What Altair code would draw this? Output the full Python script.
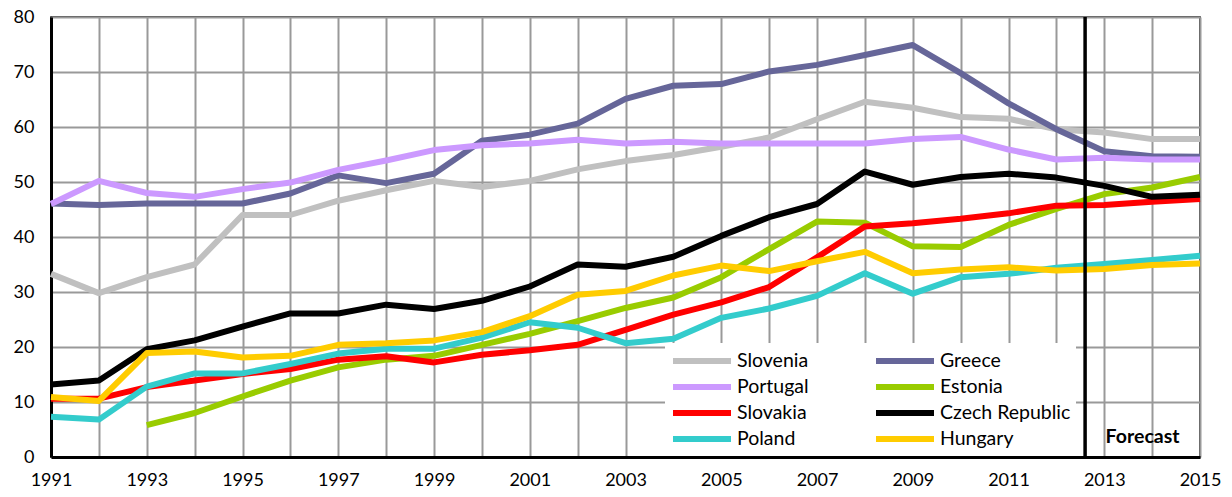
import altair as alt
import pandas as pd

years = [1991, 1992, 1993, 1994, 1995, 1996, 1997, 1998, 1999, 2000, 2001, 2002, 2003,
         2004, 2005, 2006, 2007, 2008, 2009, 2010, 2011, 2012, 2013, 2014, 2015]

slovenia = [33.3, 29.8, 32.7, 35.0, 44.0, 44.0, 46.6, 48.5, 50.2, 49.1, 50.2, 52.3, 53.8,
            54.9, 56.4, 58.1, 61.4, 64.6, 63.5, 61.8, 61.5, 59.6, 59.0, 57.8, 57.8]
greece = [46.1, 45.8, 46.1, 46.1, 46.1, 47.9, 51.2, 49.8, 51.5, 57.5, 58.6, 60.6, 65.1,
          67.5, 67.8, 70.1, 71.3, 73.1, 74.9, 69.8, 64.3, 59.6, 55.6, 54.7, 54.6]
portugal = [46.0, 50.2, 48.0, 47.3, 48.7, 49.9, 52.2, 53.9, 55.8, 56.7, 57.0, 57.7, 57.0,
            57.3, 57.0, 57.0, 57.0, 57.0, 57.8, 58.2, 55.9, 54.1, 54.4, 54.1, 54.1]
estonia = [None, None, 5.8, 8.0, 11.0, 13.9, 16.3, 17.7, 18.4, 20.4, 22.4, 24.7, 27.1,
           29.0, 32.7, 37.8, 42.8, 42.6, 38.3, 38.2, 42.2, 45.1, 47.8, 49.0, 50.9]
slovakia = [10.6, 10.6, 12.7, 13.9, 15.1, 16.0, 17.7, 18.3, 17.2, 18.6, 19.4, 20.4, 23.1,
            25.9, 28.1, 30.9, 36.3, 41.9, 42.5, 43.3, 44.3, 45.7, 45.8, 46.4, 46.9]
czech = [13.2, 13.9, 19.6, 21.2, 23.7, 26.1, 26.1, 27.7, 26.9, 28.4, 31.0, 35.0, 34.6,
         36.4, 40.2, 43.6, 46.0, 51.9, 49.5, 50.9, 51.5, 50.8, 49.3, 47.3, 47.7]
poland = [7.3, 6.8, 12.8, 15.2, 15.2, 16.9, 18.8, 19.7, 19.7, 21.7, 24.5, 23.5, 20.7,
          21.5, 25.3, 27.0, 29.3, 33.4, 29.7, 32.7, 33.3, 34.4, 35.1, 35.8, 36.6]
hungary = [10.9, 10.2, 18.9, 19.2, 18.1, 18.4, 20.4, 20.7, 21.2, 22.7, 25.6, 29.5, 30.2,
           33.0, 34.8, 33.8, 35.6, 37.3, 33.4, 34.1, 34.5, 33.9, 34.2, 34.9, 35.2]

countries = ["Slovenia", "Greece", "Portugal", "Estonia",
             "Slovakia", "Czech Republic", "Poland", "Hungary"]
colors = ["#C0C0C0", "#666699", "#CC99FF", "#99CC00",
          "#FF0000", "#000000", "#33CCCC", "#FFCC00"]
series = [slovenia, greece, portugal, estonia, slovakia, czech, poland, hungary]

forecast_x = [2012.6]
forecast_label = ["Forecast"]
forecast_label_pos = [2013.8]
forecast_label_y = [3.6]

rows = []
for name, vals in zip(countries, series):
    for y, v in zip(years, vals):
        if v is not None:
            rows.append({"year": y, "value": v, "country": name})
df = pd.DataFrame(rows)

FONT = "Lato"

x_enc = alt.X("year:Q",
              scale=alt.Scale(domain=[1991, 2015], nice=False, zero=False),
              axis=alt.Axis(values=years,
                            labelExpr="datum.value % 2 == 1 ? datum.value : ''",
                            grid=True, gridColor="#999999", gridWidth=2,
                            ticks=False, domainColor="black", domainWidth=3,
                            labelFontSize=18, labelFont=FONT, labelColor="black",
                            labelPadding=14, title=None, labelFlush=False))
y_enc = alt.Y("value:Q",
              scale=alt.Scale(domain=[0, 80], nice=False),
              axis=alt.Axis(values=[0, 10, 20, 30, 40, 50, 60, 70, 80],
                            grid=True, gridColor="#999999", gridWidth=2,
                            ticks=False, domainColor="black", domainWidth=3,
                            labelFontSize=18, labelFont=FONT, labelColor="black",
                            labelPadding=17, title=None))

lines = alt.Chart(df).mark_line(strokeWidth=6, strokeJoin="round").encode(
    x=x_enc,
    y=y_enc,
    color=alt.Color("country:N",
                    scale=alt.Scale(domain=countries, range=colors),
                    legend=alt.Legend(orient="none", legendX=614, legendY=326,
                                      columns=2, direction="horizontal",
                                      symbolType="M-1,0H4.8",
                                      symbolStrokeWidth=6, symbolSize=400,
                                      labelFontSize=19.5, labelFont=FONT,
                                      labelColor="black", labelOffset=41,
                                      fillColor="white", padding=5,
                                      rowPadding=1, columnPadding=55,
                                      title=None)),
)

rule = alt.Chart(pd.DataFrame({"x": forecast_x})).mark_rule(
    color="black", strokeWidth=3.5).encode(x="x:Q")

label = alt.Chart(pd.DataFrame({"x": forecast_label_pos, "y": forecast_label_y,
                                "t": forecast_label})).mark_text(
    font=FONT, fontSize=19.5, fontWeight="bold", color="black").encode(
    x="x:Q", y="y:Q", text="t:N")

chart = alt.layer(lines, rule, label).properties(
    width=1149, height=440,
    autosize=alt.AutoSizeParams(type="none"),
    padding={"left": 43, "top": 9, "right": 24, "bottom": 32},
).configure_view(stroke="black", strokeWidth=1.5)

chart.save("out.html", embed_options={"renderer": "svg", "actions": False})
